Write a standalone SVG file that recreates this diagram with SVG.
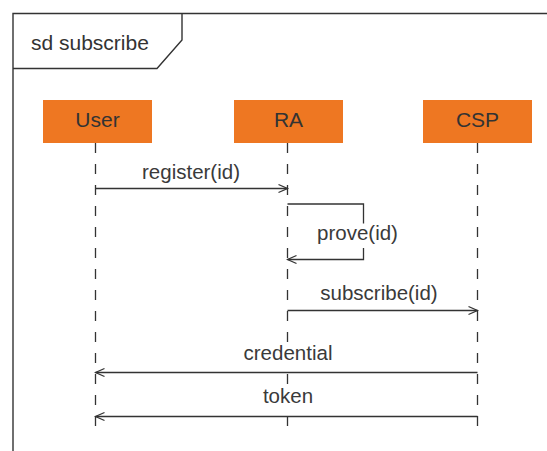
<svg xmlns="http://www.w3.org/2000/svg" width="547" height="451" viewBox="0 0 547 451">
<defs>
<style>
.txt{font-family:"Liberation Sans","DejaVu Sans",sans-serif;font-size:21px;fill:#333;}
.msg{font-family:"Liberation Sans","DejaVu Sans",sans-serif;font-size:20.5px;fill:#3a3a3a;text-anchor:middle;}
.frame{fill:none;stroke:#333;stroke-width:1.4;}
.box{fill:#EE7722;}
.life{stroke:#333;stroke-width:1.3;stroke-dasharray:10 11;fill:none;}
.line{stroke:#333;stroke-width:1.3;fill:none;}
.mask{fill:#fff;}
</style>
<marker id="arr" markerUnits="userSpaceOnUse" markerWidth="12" markerHeight="12" viewBox="0 0 12 12" refX="10" refY="6" orient="auto">
<path d="M1,2 L10,6 L1,10" fill="none" stroke="#333" stroke-width="1.3"/>
</marker>
</defs>
<rect width="547" height="451" fill="#fff"/>
<g id="frame">
<path class="frame" d="M13,451 V13.5 H547"/>
<path class="frame" d="M13,68.5 H157 L182,40 V13.5"/>
<text class="txt" x="31" y="50">sd subscribe</text>
</g>
<g id="user">
<rect class="box" x="43" y="100" width="109" height="43"/>
<text class="txt" x="97.5" y="127" text-anchor="middle">User</text>
<line class="life" x1="95.5" y1="143" x2="95.5" y2="430"/>
</g>
<g id="ra">
<rect class="box" x="234" y="100" width="109" height="43"/>
<text class="txt" x="288.5" y="127" text-anchor="middle">RA</text>
<line class="life" x1="287.5" y1="143" x2="287.5" y2="430"/>
</g>
<g id="csp">
<rect class="box" x="423" y="100" width="109" height="43"/>
<text class="txt" x="477.5" y="127" text-anchor="middle">CSP</text>
<line class="life" x1="477.5" y1="143" x2="477.5" y2="430"/>
</g>
<g id="connectors">
<line class="line" x1="95.5" y1="188.5" x2="287.5" y2="188.5" marker-end="url(#arr)"/>
<text class="msg" x="191" y="179">register(id)</text>
<path class="line" d="M287.5,204 H363.5 V259.5 H287.5" marker-end="url(#arr)"/>
<rect class="mask" x="315" y="223.5" width="86" height="24.5"/>
<text class="msg" x="357.5" y="240">prove(id)</text>
<line class="line" x1="287.5" y1="310.5" x2="477.5" y2="310.5" marker-end="url(#arr)"/>
<text class="msg" x="379" y="300">subscribe(id)</text>
<rect class="mask" x="238" y="343" width="100" height="28.5"/>
<line class="line" x1="477.5" y1="372.5" x2="95.5" y2="372.5" marker-end="url(#arr)"/>
<text class="msg" x="288" y="360">credential</text>
<rect class="mask" x="258" y="385" width="60" height="31"/>
<line class="line" x1="477.5" y1="416.5" x2="95.5" y2="416.5" marker-end="url(#arr)"/>
<text class="msg" x="288" y="403">token</text>
</g>
</svg>
